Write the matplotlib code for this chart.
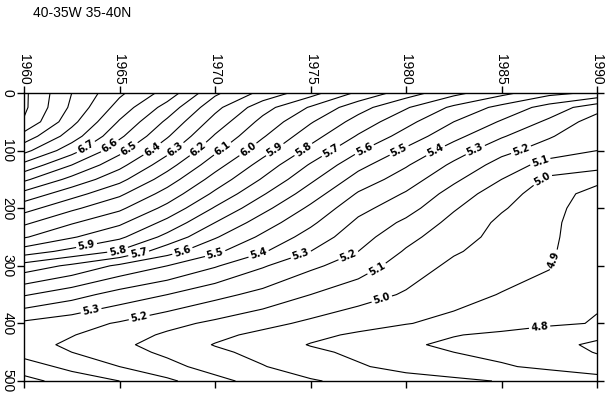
import numpy as np
import matplotlib
matplotlib.use("Agg")
import matplotlib.pyplot as plt

# ---- data: temperature grid (year columns x depth rows)
years = [1960, 1962.5, 1965, 1967.5, 1970, 1972.5, 1975, 1977.5, 1980, 1982.5, 1985, 1987.5, 1990]
depths = [0, 25, 50, 75, 100, 125, 150, 175, 200, 225, 250, 275, 300, 350, 400, 420, 437, 450, 475, 500]

t_000 = [7.22, 7.00, 6.82, 6.66, 6.42, 6.27, 6.14, 5.98, 5.85, 5.73, 5.63, 5.53, 5.48]
t_025 = [7.22, 6.98, 6.76, 6.56, 6.33, 6.14, 5.99, 5.84, 5.71, 5.58, 5.47, 5.36, 5.24]
t_050 = [7.19, 6.93, 6.69, 6.48, 6.26, 6.07, 5.91, 5.76, 5.63, 5.50, 5.39, 5.28, 5.15]
t_075 = [7.06, 6.85, 6.62, 6.41, 6.19, 6.01, 5.84, 5.69, 5.56, 5.43, 5.31, 5.21, 5.12]
t_100 = [6.93, 6.74, 6.53, 6.33, 6.12, 5.94, 5.77, 5.61, 5.48, 5.35, 5.23, 5.15, 5.10]
t_125 = [6.77, 6.60, 6.43, 6.24, 6.04, 5.86, 5.69, 5.53, 5.41, 5.28, 5.16, 5.06, 5.04]
t_150 = [6.62, 6.47, 6.33, 6.15, 5.96, 5.79, 5.62, 5.46, 5.35, 5.22, 5.10, 4.98, 4.93]
t_175 = [6.47, 6.34, 6.22, 6.06, 5.88, 5.71, 5.55, 5.39, 5.29, 5.16, 5.04, 4.95, 4.86]
t_200 = [6.34, 6.22, 6.12, 5.97, 5.79, 5.63, 5.48, 5.33, 5.24, 5.11, 5.01, 4.935, 4.84]
t_225 = [6.22, 6.11, 6.02, 5.87, 5.70, 5.55, 5.42, 5.28, 5.18, 5.07, 4.98, 4.925, 4.83]
t_250 = [6.11, 6.01, 5.92, 5.77, 5.61, 5.48, 5.36, 5.24, 5.13, 5.04, 4.97, 4.92, 4.83]
t_275 = [5.95, 5.87, 5.79, 5.64, 5.52, 5.41, 5.30, 5.20, 5.09, 5.01, 4.96, 4.915, 4.82]
t_300 = [5.76, 5.68, 5.58, 5.50, 5.41, 5.31, 5.22, 5.15, 5.05, 4.98, 4.95, 4.905, 4.82]
t_350 = [5.51, 5.44, 5.36, 5.30, 5.23, 5.17, 5.10, 5.04, 4.99, 4.94, 4.895, 4.87, 4.81]
t_400 = [5.28, 5.24, 5.19, 5.13, 5.08, 5.03, 4.98, 4.94, 4.905, 4.87, 4.845, 4.815, 4.795]
t_420 = [5.265, 5.205, 5.145, 5.085, 5.025, 4.975, 4.925, 4.885, 4.84, 4.805, 4.78, 4.75, 4.72]
t_437 = [5.24, 5.18, 5.12, 5.06, 4.995, 4.95, 4.895, 4.86, 4.815, 4.78, 4.755, 4.725, 4.685]
t_450 = [5.26, 5.20, 5.14, 5.08, 5.02, 4.97, 4.92, 4.88, 4.835, 4.80, 4.775, 4.745, 4.695]
t_475 = [5.35, 5.27, 5.20, 5.13, 5.06, 5.005, 4.95, 4.91, 4.87, 4.84, 4.81, 4.78, 4.74]
t_500 = [5.43, 5.36, 5.30, 5.22, 5.13, 5.06, 5.01, 4.97, 4.94, 4.92, 4.895, 4.87, 4.85]

temp = np.array([t_000, t_025, t_050, t_075, t_100, t_125, t_150, t_175, t_200, t_225,
                 t_250, t_275, t_300, t_350, t_400, t_420, t_437, t_450, t_475, t_500])

levels = [round(4.6 + 0.1 * i, 1) for i in range(27)]

x_ticks = [1960, 1965, 1970, 1975, 1980, 1985, 1990]
y_ticks = [0, 100, 200, 300, 400, 500]
title = "40-35W 35-40N"

# where the reference puts its inline labels (year, depth)
label_pos = [(1963.3, 97), (1964.6, 97), (1965.5, 97), (1966.7, 97), (1967.9, 97),
             (1969.1, 97), (1970.4, 97), (1971.7, 97), (1973.1, 97), (1974.6, 97),
             (1976.0, 97), (1977.8, 97), (1979.6, 97), (1981.5, 97), (1983.6, 97),
             (1986.0, 97), (1987.0, 116), (1987.0, 140),
             (1963.3, 269), (1964.9, 272), (1966.0, 278), (1968.3, 275), (1970.0, 278),
             (1972.3, 281), (1974.5, 281), (1977.0, 284), (1978.5, 307), (1978.8, 365),
             (1963.5, 376), (1966.0, 385), (1987.8, 290), (1987.0, 408)]

# ---- figure
W, H = 606, 393
fig = plt.figure(figsize=(W / 100, H / 100), dpi=100)
ax = fig.add_axes([24 / W, 1 - 381 / H, (597 - 24) / W, (381 - 93) / H])

cs = ax.contour(years, depths, temp, levels=levels, colors="black", linewidths=0.8)
ax.set_xlim(1960, 1990)
ax.set_ylim(500, 0)

with plt.rc_context({"font.weight": "bold"}):
    ax.clabel(cs, fmt="%.1f", fontsize=7, inline=True, inline_spacing=2,
              manual=label_pos)

tick_font = {"family": "Liberation Sans", "size": 10}
ax.set_xticks(x_ticks)
ax.set_yticks(y_ticks)
ax.xaxis.tick_top()
ax.set_xticklabels([str(v) for v in x_ticks], rotation=270, fontdict=tick_font)
ax.set_yticklabels([str(v) for v in y_ticks], rotation=270, fontdict=tick_font,
                   va="center")
ax.tick_params(axis="x", which="both", top=True, bottom=True, labeltop=True,
               labelbottom=False, direction="out", length=5, width=1, pad=1)
ax.tick_params(axis="y", which="both", left=True, right=True, labelleft=True,
               labelright=False, direction="out", length=5, width=1, pad=2)
for s in ax.spines.values():
    s.set_linewidth(1)

fig.text(33 / W, 1 - 13 / H, title, fontsize=10, family="Liberation Sans",
         ha="left", va="center")

fig.savefig("out.png", dpi=100)
